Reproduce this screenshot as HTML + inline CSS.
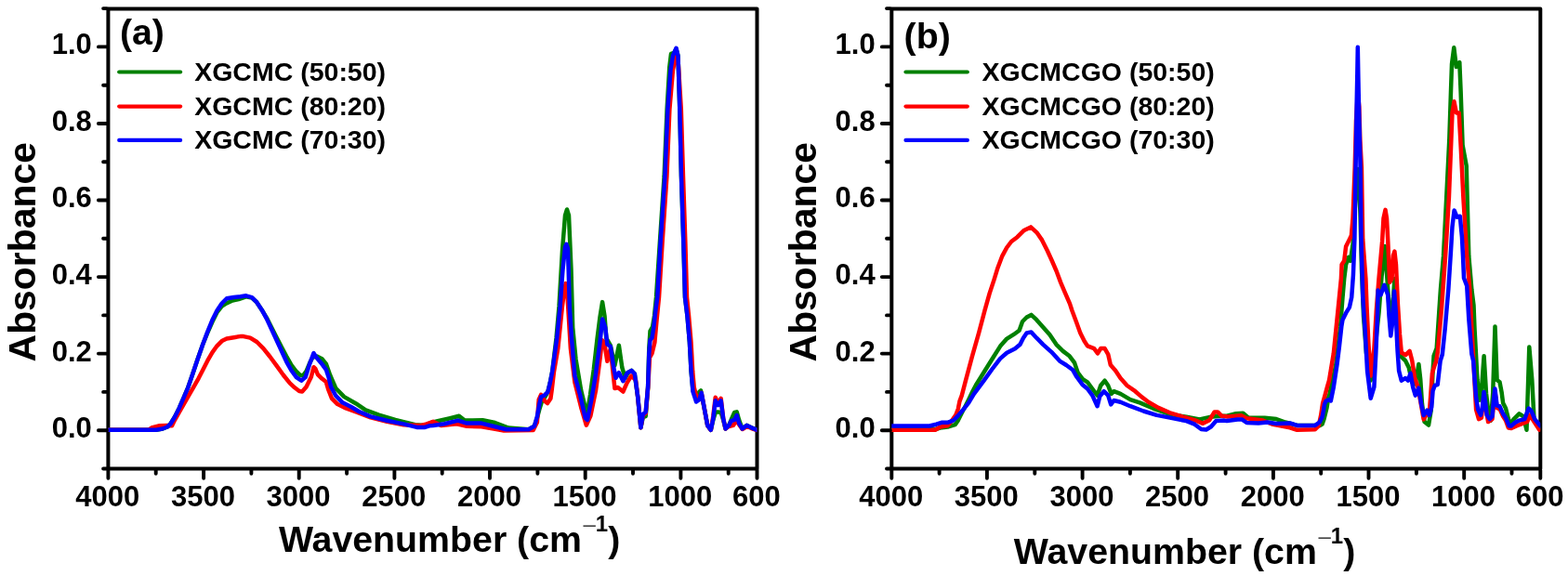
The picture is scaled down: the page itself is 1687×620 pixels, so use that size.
<!DOCTYPE html><html><head><meta charset="utf-8"><title>FTIR spectra</title><style>html,body{margin:0;padding:0;background:#fff;}svg{display:block;}text{font-family:"Liberation Sans", Arial, Helvetica, sans-serif;font-weight:bold;fill:#000;}</style></head><body>
<svg width="1687" height="620" viewBox="0 0 1687 620">
<rect width="1687" height="620" fill="#fff"/>
<rect x="116.4" y="9.4" width="698.1" height="495.0" fill="none" stroke="#000" stroke-width="4" stroke-linejoin="round"/>
<clipPath id="clipa"><rect x="116.4" y="9.4" width="698.1" height="495.0"/></clipPath>
<g clip-path="url(#clipa)" fill="none" stroke-width="4.5" stroke-linejoin="round" stroke-linecap="round">
<polyline stroke="#008000" points="116.4,462.7 168.0,462.7 175.0,461.5 180.0,459.5 183.3,456.5 187.9,449.0 192.7,439.4 197.6,428.1 202.4,416.8 207.3,402.5 212.5,387.0 218.1,371.0 223.2,358.4 228.4,346.5 233.5,336.2 238.7,329.5 242.6,327.1 249.0,323.9 256.8,322.0 264.8,319.3 271.0,320.6 276.3,325.4 281.6,333.4 286.9,342.1 292.3,352.7 297.6,363.2 302.9,373.5 308.2,383.5 313.6,393.0 318.9,400.0 323.0,403.8 326.0,404.4 329.5,399.6 333.5,390.0 336.6,384.5 341.0,383.6 346.4,386.3 350.8,391.6 355.2,404.0 361.4,418.2 370.3,427.1 382.7,434.2 393.4,441.3 407.6,446.6 425.3,451.9 446.6,457.2 457.2,458.1 464.0,455.0 470.9,453.2 484.2,450.2 493.9,447.8 499.9,452.6 519.3,452.2 532.6,455.0 547.1,460.5 568.8,462.3 574.9,458.7 577.9,450.0 580.5,440.0 583.0,432.0 586.0,428.0 589.4,421.8 591.8,412.1 594.2,400.0 598.5,363.9 601.5,330.0 605.0,270.0 608.0,232.0 610.0,225.5 612.0,232.0 614.5,290.0 616.2,352.6 619.5,386.5 625.2,420.4 631.5,446.4 635.0,425.0 638.8,397.8 642.5,365.0 645.5,341.3 648.1,325.1 650.5,340.0 652.3,363.9 656.8,371.8 661.4,393.3 665.9,371.8 669.3,395.5 672.7,406.8 676.0,401.0 679.4,398.9 682.8,402.3 686.2,427.2 689.4,460.3 691.8,449.0 694.7,448.2 697.1,416.8 698.3,375.0 699.5,356.3 702.0,352.0 704.0,340.0 706.0,320.0 709.8,262.5 714.6,190.0 717.6,117.5 720.3,72.0 722.0,58.0 725.0,57.0 727.5,52.5 729.5,60.0 731.3,117.5 733.0,190.0 735.4,262.5 737.0,320.0 739.4,339.4 741.9,368.4 743.6,399.8 745.5,420.0 749.1,428.0 752.3,422.0 754.0,420.4 757.6,438.6 761.2,457.9 764.8,462.8 767.3,452.0 769.7,444.0 772.1,443.4 775.7,444.0 778.2,452.0 780.6,461.5 784.2,457.9 786.6,452.0 790.2,444.0 792.7,443.4 795.1,452.0 798.7,461.5 803.6,457.9 808.4,460.3 814.5,462.8"/>
<polyline stroke="#ff0000" points="116.4,462.7 160.0,462.5 163.0,460.5 171.7,458.3 179.7,458.0 185.0,458.3 187.9,452.3 194.4,441.0 200.8,429.7 207.3,418.4 213.7,407.1 218.1,398.5 223.2,388.4 228.4,379.4 233.5,372.3 238.7,367.1 243.9,364.5 251.6,363.2 259.4,361.9 262.1,362.1 269.2,363.6 276.3,368.0 283.4,375.1 290.5,384.0 297.6,393.7 304.7,403.5 311.8,412.3 317.1,417.3 322.0,421.0 325.1,421.4 329.5,416.4 334.8,405.8 337.5,395.2 339.3,396.9 341.9,403.1 346.4,407.6 350.8,411.1 353.5,420.0 357.0,428.9 363.2,435.1 372.1,439.5 384.5,443.9 398.7,449.3 416.4,453.7 434.2,457.2 451.9,458.1 459.0,456.4 466.0,453.8 474.5,458.0 491.4,456.2 502.3,458.7 518.0,459.3 532.6,461.7 542.2,463.5 573.7,462.9 577.9,454.4 579.7,430.2 582.1,424.8 585.8,431.4 589.0,434.0 592.4,429.0 593.6,420.4 596.0,400.0 600.3,375.2 604.9,330.0 607.5,310.0 608.7,305.1 610.0,310.0 611.2,330.0 613.9,375.2 618.4,411.4 625.2,438.5 630.8,457.7 635.4,447.5 641.0,420.4 645.5,386.5 647.8,366.2 650.1,368.4 653.4,388.8 656.8,375.2 661.4,418.1 664.7,417.0 670.4,421.5 674.9,411.4 679.4,404.6 684.0,409.1 686.2,427.2 689.4,460.3 691.8,447.0 694.7,445.0 697.1,418.0 699.0,385.0 701.5,380.5 704.4,368.4 706.5,345.0 709.0,320.0 712.5,262.5 717.4,190.0 720.4,117.5 724.0,75.0 727.5,59.0 729.5,64.0 732.8,117.5 735.0,190.0 737.4,262.5 739.0,320.0 741.0,339.4 743.5,368.4 745.2,399.8 746.7,416.8 750.0,430.0 752.3,430.1 754.7,422.8 757.6,438.6 761.2,457.9 764.8,462.8 767.3,448.0 769.7,427.7 772.6,434.0 775.7,428.9 778.2,450.7 780.6,461.5 784.2,459.0 789.0,457.9 792.7,452.0 795.1,457.0 798.7,462.0 803.6,459.0 808.4,461.0 814.5,463.0"/>
<polyline stroke="#0000ff" points="116.4,462.7 168.0,462.7 175.0,461.5 180.0,459.5 183.3,456.5 187.9,449.0 192.7,439.4 197.6,428.1 202.4,416.8 207.3,402.5 212.5,387.0 218.1,371.0 223.2,357.4 228.4,344.5 233.5,334.2 238.7,326.5 243.9,321.3 251.6,320.0 258.6,319.2 264.8,318.3 271.0,320.1 276.3,325.4 281.6,333.4 286.9,343.1 292.3,354.7 297.6,366.2 302.9,377.7 308.2,389.3 313.6,399.0 318.9,406.1 324.2,409.7 328.6,406.1 333.1,391.9 337.5,380.1 340.2,384.5 345.5,390.7 350.8,397.8 353.5,405.8 356.1,416.4 361.4,426.2 368.5,433.3 377.4,437.7 386.3,443.0 398.7,448.4 416.4,452.8 434.2,456.4 448.4,459.9 457.2,459.9 462.0,458.3 466.0,458.0 478.1,456.2 492.7,452.6 502.3,455.6 518.0,455.6 532.6,459.3 544.7,462.3 568.8,462.3 574.9,458.7 577.9,448.4 580.3,435.1 582.1,427.2 585.8,425.4 589.4,421.8 591.8,412.1 594.2,400.0 599.2,363.9 602.6,330.0 605.5,290.0 608.0,266.0 609.4,262.8 611.0,268.0 612.8,330.0 615.0,363.9 618.4,404.6 624.1,424.9 629.7,449.8 632.0,452.0 636.5,429.4 641.0,402.3 645.5,368.4 648.1,343.5 651.2,352.6 653.4,370.7 656.8,372.9 660.2,395.5 662.5,406.8 665.9,401.2 670.4,410.2 674.9,401.2 679.4,398.9 682.8,402.3 686.2,427.2 689.4,460.3 691.8,445.8 694.7,443.4 697.1,416.8 698.3,380.5 699.5,366.0 701.5,363.6 703.1,353.9 705.6,332.1 707.3,320.0 710.5,262.5 715.4,190.0 718.4,117.5 721.5,75.0 724.0,60.0 727.5,51.9 729.5,60.0 731.3,117.5 733.0,190.0 735.4,262.5 737.0,320.0 739.4,339.4 741.9,368.4 743.6,399.8 745.5,421.6 749.1,432.5 752.3,430.1 754.7,422.8 757.6,438.6 761.2,457.9 764.8,462.8 767.3,450.7 769.7,431.3 772.6,436.1 775.7,431.3 778.2,450.7 780.6,461.5 784.2,457.9 786.6,453.1 790.2,451.9 792.7,447.0 795.1,455.5 798.7,461.5 803.6,457.9 808.4,460.3 814.5,462.8"/>
</g>
<path d="M111.1,504.5H114.9M105.9,463.2H114.9M111.1,421.9H114.9M105.9,380.6H114.9M111.1,339.4H114.9M105.9,298.1H114.9M111.1,256.8H114.9M105.9,215.5H114.9M111.1,174.2H114.9M105.9,133.0H114.9M111.1,91.7H114.9M105.9,50.4H114.9M111.1,9.1H114.9M116.4,505.9V514.7M167.7,505.9V509.8M219.1,505.9V514.7M270.4,505.9V509.8M321.7,505.9V514.7M373.1,505.9V509.8M424.4,505.9V514.7M475.7,505.9V509.8M527.0,505.9V514.7M578.4,505.9V509.8M629.7,505.9V514.7M681.0,505.9V509.8M732.4,505.9V514.7M783.7,505.9V509.8M814.5,505.9V514.7" stroke="#000" stroke-width="3.9" stroke-linecap="round" fill="none"/>
<text x="98.8" y="471.1" font-size="31" text-anchor="end">0.0</text>
<text x="98.8" y="388.5" font-size="31" text-anchor="end">0.2</text>
<text x="98.8" y="306.0" font-size="31" text-anchor="end">0.4</text>
<text x="98.8" y="223.4" font-size="31" text-anchor="end">0.6</text>
<text x="98.8" y="140.9" font-size="31" text-anchor="end">0.8</text>
<text x="98.8" y="58.3" font-size="31" text-anchor="end">1.0</text>
<text x="115.8" y="545.2" font-size="31" text-anchor="middle">4000</text>
<text x="218.5" y="545.2" font-size="31" text-anchor="middle">3500</text>
<text x="321.1" y="545.2" font-size="31" text-anchor="middle">3000</text>
<text x="423.8" y="545.2" font-size="31" text-anchor="middle">2500</text>
<text x="526.4" y="545.2" font-size="31" text-anchor="middle">2000</text>
<text x="629.1" y="545.2" font-size="31" text-anchor="middle">1500</text>
<text x="731.8" y="545.2" font-size="31" text-anchor="middle">1000</text>
<text x="813.9" y="545.2" font-size="31" text-anchor="middle">600</text>
<rect x="959.3" y="9.4" width="698.0" height="495.0" fill="none" stroke="#000" stroke-width="4" stroke-linejoin="round"/>
<clipPath id="clipb"><rect x="959.3" y="9.4" width="698.0" height="495.0"/></clipPath>
<g clip-path="url(#clipb)" fill="none" stroke-width="4.5" stroke-linejoin="round" stroke-linecap="round">
<polyline stroke="#008000" points="959.3,462.0 1006.6,462.0 1011.5,460.5 1019.5,459.5 1027.6,457.1 1030.5,453.0 1033.0,448.0 1035.5,443.0 1039.0,436.5 1042.5,429.5 1046.3,421.5 1050.0,414.5 1058.4,401.0 1067.3,386.8 1076.2,372.6 1083.3,364.6 1090.4,360.2 1096.6,355.7 1100.1,346.0 1104.6,341.5 1109.5,338.9 1115.2,344.2 1122.3,352.2 1129.4,360.2 1136.5,370.8 1143.6,377.9 1150.7,383.3 1156.0,390.4 1159.6,401.0 1164.9,408.1 1170.0,411.4 1175.3,418.5 1180.6,425.6 1184.2,415.0 1188.6,409.7 1192.2,415.0 1195.7,423.9 1198.4,421.2 1205.5,423.9 1216.1,430.1 1226.8,433.6 1241.0,439.8 1258.7,446.0 1276.4,448.7 1290.6,451.4 1303.0,448.7 1311.9,447.8 1320.0,447.8 1329.7,445.3 1337.4,444.8 1343.2,449.7 1360.7,449.7 1373.2,451.1 1382.9,454.5 1395.5,457.9 1414.9,458.0 1420.0,458.0 1422.6,456.5 1424.6,450.7 1427.5,439.0 1429.4,426.9 1430.0,426.4 1437.3,392.5 1442.1,351.4 1444.5,320.0 1446.2,300.0 1448.1,284.7 1451.0,276.9 1453.0,280.8 1455.6,262.3 1458.0,220.0 1459.5,195.0 1460.8,182.0 1462.0,195.0 1463.5,230.0 1465.0,290.0 1467.0,340.0 1470.0,380.0 1474.7,409.5 1478.0,395.0 1481.0,360.0 1483.5,336.8 1486.5,298.0 1489.9,265.0 1492.3,298.0 1494.5,330.0 1496.5,345.0 1499.0,320.0 1500.5,300.0 1502.0,330.0 1504.0,365.0 1506.9,383.1 1512.2,388.4 1515.7,395.5 1519.3,411.5 1522.8,413.3 1526.4,392.0 1528.2,407.9 1530.0,434.6 1532.6,454.1 1537.0,457.6 1539.7,441.7 1541.5,400.8 1542.6,383.1 1545.7,374.7 1547.8,343.3 1549.9,311.9 1553.0,275.7 1556.2,212.8 1559.3,150.0 1561.0,98.1 1562.0,69.0 1564.3,51.2 1566.8,72.0 1570.3,67.1 1571.6,98.1 1573.6,156.2 1577.7,178.3 1578.6,212.8 1580.3,275.7 1583.4,311.9 1585.5,328.6 1586.5,353.8 1589.5,409.0 1591.7,430.8 1593.9,420.6 1596.6,383.2 1599.0,423.5 1601.9,448.2 1604.0,452.6 1606.2,423.5 1608.5,351.4 1610.6,409.0 1613.5,411.2 1615.6,422.1 1617.1,433.7 1620.0,439.5 1624.4,456.9 1628.7,451.1 1634.5,445.3 1638.9,448.2 1642.5,462.7 1645.3,373.5 1648.3,409.0 1650.5,451.1 1656.3,461.3"/>
<polyline stroke="#ff0000" points="959.3,462.7 1006.6,462.7 1011.5,459.5 1019.5,458.3 1024.4,452.3 1028.4,446.6 1030.8,440.2 1032.4,432.1 1034.8,425.6 1038.9,409.9 1046.0,383.3 1053.1,358.4 1059.5,334.2 1064.7,315.6 1069.5,301.1 1073.5,288.2 1078.4,275.3 1083.2,266.5 1088.1,260.0 1094.5,255.2 1101.8,247.9 1109.0,244.4 1115.5,250.3 1121.1,258.4 1126.8,269.7 1131.6,280.2 1136.5,291.5 1141.3,304.4 1146.1,315.6 1151.0,326.9 1153.4,334.2 1157.8,346.0 1162.3,358.4 1166.7,367.3 1170.0,372.4 1177.1,375.1 1181.0,380.4 1184.2,375.1 1188.6,375.1 1192.2,381.3 1194.8,392.8 1200.2,399.0 1205.5,407.0 1212.6,415.0 1221.4,421.2 1228.5,427.4 1235.6,432.7 1246.3,438.9 1258.7,444.3 1272.9,448.7 1285.3,452.2 1294.2,455.8 1301.3,452.2 1306.6,443.4 1310.1,443.4 1314.6,447.8 1320.8,448.6 1335.5,447.3 1341.3,450.2 1358.7,452.6 1368.4,456.5 1387.8,460.3 1395.5,462.8 1414.9,462.3 1418.7,458.4 1421.2,446.8 1423.1,434.2 1425.5,425.5 1428.4,414.8 1430.0,409.5 1434.8,380.4 1439.7,332.1 1442.9,300.0 1443.6,284.7 1446.2,280.8 1448.1,265.3 1451.0,259.5 1453.9,253.6 1455.5,235.0 1457.7,180.0 1459.0,130.0 1460.8,100.0 1462.3,115.0 1463.3,150.0 1464.9,180.0 1466.2,257.5 1469.4,300.0 1470.5,330.0 1472.3,368.4 1474.7,404.6 1478.4,375.6 1480.8,334.5 1483.5,300.0 1487.1,260.0 1488.5,235.0 1490.5,225.9 1492.0,235.0 1493.3,260.0 1495.2,303.9 1497.5,300.0 1499.0,275.0 1500.4,270.6 1502.0,285.0 1503.9,327.1 1506.0,360.0 1507.8,379.5 1512.2,382.2 1516.6,377.8 1519.3,388.4 1522.0,406.2 1525.5,416.8 1529.1,436.3 1531.7,451.4 1535.3,445.2 1537.9,443.4 1539.4,423.5 1540.9,401.8 1543.1,394.5 1545.2,388.7 1546.8,378.9 1550.9,332.8 1555.1,275.7 1558.9,212.8 1561.4,150.0 1562.5,121.4 1564.5,109.3 1566.8,121.4 1569.7,121.4 1571.6,156.2 1574.4,212.8 1578.2,275.7 1581.3,311.9 1583.4,353.8 1585.5,391.5 1588.1,441.0 1591.0,451.1 1593.9,449.7 1596.5,425.0 1598.2,437.0 1601.1,454.0 1605.5,451.1 1607.0,434.0 1608.4,421.0 1610.6,439.0 1613.5,440.0 1617.1,448.0 1620.0,452.5 1622.9,460.6 1626.0,461.0 1631.6,458.4 1643.2,454.0 1646.1,446.8 1651.2,455.0 1656.3,462.7"/>
<polyline stroke="#0000ff" points="959.3,458.5 1000.0,458.5 1007.4,456.7 1013.0,454.8 1019.5,454.8 1026.0,452.3 1030.8,447.4 1035.6,441.8 1042.1,433.7 1047.8,424.1 1058.4,409.9 1067.3,397.5 1076.2,385.9 1083.3,379.7 1092.1,375.3 1097.5,370.8 1101.0,363.7 1104.6,358.4 1109.5,357.5 1115.2,363.7 1122.3,370.8 1131.2,378.8 1140.1,388.6 1147.2,393.0 1154.3,398.3 1157.8,404.6 1164.9,414.3 1170.0,418.5 1175.3,425.6 1180.6,437.2 1183.3,426.5 1187.7,421.2 1192.2,425.6 1195.2,435.4 1198.4,431.0 1205.5,432.7 1216.1,437.2 1230.3,442.5 1244.5,446.9 1258.7,449.6 1276.4,453.1 1285.3,456.7 1292.4,462.0 1297.7,462.5 1303.0,459.3 1308.4,453.1 1317.2,452.6 1320.0,453.1 1331.6,451.6 1336.5,451.6 1341.3,455.0 1353.9,455.5 1363.6,454.5 1373.2,456.0 1387.8,455.5 1395.5,457.9 1414.9,457.9 1419.7,454.5 1422.6,448.7 1424.1,441.0 1425.0,435.2 1426.5,431.8 1429.4,430.3 1431.8,431.5 1434.8,416.7 1438.5,392.5 1440.9,373.2 1443.3,351.4 1444.5,344.2 1448.1,336.9 1451.8,330.9 1454.2,320.0 1455.9,296.3 1457.4,257.0 1458.6,180.0 1459.7,110.0 1460.3,80.0 1460.8,50.7 1461.3,80.0 1461.9,110.0 1463.6,180.0 1464.5,257.0 1466.3,320.0 1468.7,356.3 1471.1,399.8 1474.7,428.8 1478.4,416.7 1480.3,380.4 1482.0,339.3 1482.6,312.6 1485.5,317.4 1489.4,306.8 1493.2,317.4 1494.5,340.0 1496.3,361.5 1498.5,345.0 1500.0,313.5 1501.9,336.8 1502.8,362.0 1503.6,378.0 1505.1,399.1 1507.8,409.7 1512.2,407.0 1514.9,409.7 1517.5,401.7 1520.2,416.8 1522.8,425.7 1526.4,417.7 1529.1,434.6 1531.7,447.0 1535.3,441.7 1537.9,447.0 1540.2,438.1 1541.6,420.6 1543.8,414.8 1546.7,414.1 1548.1,401.8 1549.6,388.7 1551.8,381.5 1554.7,353.8 1558.3,311.9 1561.0,270.0 1562.5,244.2 1564.6,226.4 1567.7,233.8 1570.8,232.7 1572.9,254.7 1574.0,275.7 1575.0,299.3 1578.2,307.7 1580.3,343.3 1583.4,381.0 1585.2,388.7 1586.6,409.0 1588.1,427.9 1590.2,441.0 1593.1,446.8 1594.6,441.0 1596.5,422.1 1598.2,433.7 1599.7,446.8 1602.6,451.1 1605.5,448.2 1606.9,430.8 1608.4,418.5 1610.6,436.6 1613.5,437.3 1617.1,445.3 1620.0,449.7 1623.6,458.4 1625.8,458.4 1630.2,454.8 1634.5,452.6 1640.3,451.1 1644.7,439.5 1647.6,442.4 1651.2,451.1 1657.3,458.5"/>
</g>
<path d="M954.0,504.5H957.8M948.8,463.2H957.8M954.0,421.9H957.8M948.8,380.6H957.8M954.0,339.4H957.8M948.8,298.1H957.8M954.0,256.8H957.8M948.8,215.5H957.8M954.0,174.2H957.8M948.8,133.0H957.8M954.0,91.7H957.8M948.8,50.4H957.8M954.0,9.1H957.8M959.3,505.9V514.7M1010.6,505.9V509.8M1061.9,505.9V514.7M1113.3,505.9V509.8M1164.6,505.9V514.7M1215.9,505.9V509.8M1267.2,505.9V514.7M1318.6,505.9V509.8M1369.9,505.9V514.7M1421.2,505.9V509.8M1472.5,505.9V514.7M1523.9,505.9V509.8M1575.2,505.9V514.7M1626.5,505.9V509.8M1657.3,505.9V514.7" stroke="#000" stroke-width="3.9" stroke-linecap="round" fill="none"/>
<text x="941.7" y="471.1" font-size="31" text-anchor="end">0.0</text>
<text x="941.7" y="388.5" font-size="31" text-anchor="end">0.2</text>
<text x="941.7" y="306.0" font-size="31" text-anchor="end">0.4</text>
<text x="941.7" y="223.4" font-size="31" text-anchor="end">0.6</text>
<text x="941.7" y="140.9" font-size="31" text-anchor="end">0.8</text>
<text x="941.7" y="58.3" font-size="31" text-anchor="end">1.0</text>
<text x="958.7" y="545.2" font-size="31" text-anchor="middle">4000</text>
<text x="1061.3" y="545.2" font-size="31" text-anchor="middle">3500</text>
<text x="1164.0" y="545.2" font-size="31" text-anchor="middle">3000</text>
<text x="1266.6" y="545.2" font-size="31" text-anchor="middle">2500</text>
<text x="1369.3" y="545.2" font-size="31" text-anchor="middle">2000</text>
<text x="1471.9" y="545.2" font-size="31" text-anchor="middle">1500</text>
<text x="1574.6" y="545.2" font-size="31" text-anchor="middle">1000</text>
<text x="1656.7" y="545.2" font-size="31" text-anchor="middle">600</text>
<text transform="translate(37.8,389.4) rotate(-90)" font-size="40.9">Absorbance</text>
<text transform="translate(877.8,389.4) rotate(-90)" font-size="40.9">Absorbance</text>
<text x="299.9" y="594.0" font-size="39.3">Wavenumber (cm<tspan font-size="24" font-weight="normal" fill="#444" dx="1.5" dy="-22">&#8211;</tspan><tspan font-size="24" dy="0">1</tspan><tspan dy="22">)</tspan></text>
<text x="1090.8" y="607.1" font-size="39.3">Wavenumber (cm<tspan font-size="24" font-weight="normal" fill="#444" dx="1.5" dy="-22">&#8211;</tspan><tspan font-size="24" dy="0">1</tspan><tspan dy="22">)</tspan></text>
<text x="128.9" y="47.7" font-size="39.3">(a)</text>
<text x="972.6" y="51.6" font-size="39.3">(b)</text>
<line x1="128.2" y1="77.5" x2="194.1" y2="77.5" stroke="#008000" stroke-width="4.2" stroke-linecap="round"/>
<text x="209.2" y="87.0" font-size="28.5">XGCMC (50:50)</text>
<line x1="128.2" y1="114.6" x2="194.1" y2="114.6" stroke="#ff0000" stroke-width="4.2" stroke-linecap="round"/>
<text x="209.2" y="123.6" font-size="28.5">XGCMC (80:20)</text>
<line x1="128.2" y1="150.9" x2="194.1" y2="150.9" stroke="#0000ff" stroke-width="4.2" stroke-linecap="round"/>
<text x="209.2" y="160.2" font-size="28.5">XGCMC (70:30)</text>
<line x1="974.5" y1="77.5" x2="1040.8" y2="77.5" stroke="#008000" stroke-width="4.2" stroke-linecap="round"/>
<text x="1056.6000000000001" y="87.0" font-size="28.5">XGCMCGO (50:50)</text>
<line x1="974.5" y1="114.6" x2="1040.8" y2="114.6" stroke="#ff0000" stroke-width="4.2" stroke-linecap="round"/>
<text x="1056.6000000000001" y="123.6" font-size="28.5">XGCMCGO (80:20)</text>
<line x1="974.5" y1="150.9" x2="1040.8" y2="150.9" stroke="#0000ff" stroke-width="4.2" stroke-linecap="round"/>
<text x="1056.6000000000001" y="160.2" font-size="28.5">XGCMCGO (70:30)</text>
</svg></body></html>
